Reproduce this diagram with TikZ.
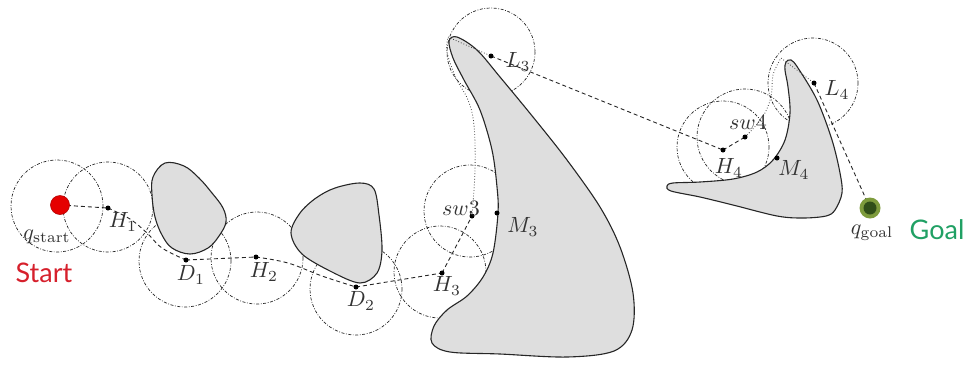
\documentclass[tikz,border=0pt]{standalone}
\usepackage{graphicx}
\usepackage{fontspec}
\newfontfamily\gill{Lato}
\newcommand\mylbl[1]{\scalebox{2.2}{#1}}
\begin{document}
\begin{tikzpicture}[x=1pt,y=-1pt,
  zone/.style={draw=black!85, line width=0.7pt, dash pattern=on 3pt off 1.6pt on 0.8pt off 1.6pt},
  obst/.style={draw=black!85, line width=1.1pt, fill=black!13},
  route/.style={draw=black!85, line width=0.9pt, dash pattern=on 4pt off 3pt},
  fine/.style={draw=black!75, line width=0.8pt, dash pattern=on 0.8pt off 2pt},
  pt/.style={circle, fill=black, inner sep=0pt, minimum size=5pt},
  lab/.style={text=black!80, inner sep=0pt}]
\useasboundingbox (0,0) rectangle (969,368);
% point coordinates
\coordinate (qs) at (60,205);
\coordinate (H1) at (108,208);
\coordinate (D1) at (186,260);
\coordinate (H2) at (256,257);
\coordinate (D2) at (356,287);
\coordinate (H3) at (442,273);
\coordinate (sw3) at (472,216);
\coordinate (M3) at (497,213);
\coordinate (L3) at (491,56);
\coordinate (H4) at (723,150);
\coordinate (sw4) at (745,137);
\coordinate (M4) at (777,158);
\coordinate (L4) at (814,83);
\coordinate (qg) at (870,208);
% zones
\draw[zone] (57,206) circle (46);
\draw[zone] (108,207) circle (45);
\draw[zone] (185,261) circle (46);
\draw[zone] (257,258) circle (46);
\draw[zone] (356,289) circle (46);
\draw[zone] (440,272) circle (46);
\draw[zone] (470,211) circle (46);
\draw[zone] (491,52) circle (44);
\draw[zone] (723,147) circle (46);
\draw[zone] (745,137) circle (48);
\draw[zone] (813,83) circle (45);
% obstacles
\path[obst] plot[smooth cycle, tension=0.6] coordinates {(165,163) (153,177) (152,195) (155,217) (162,235) (172,248) (190,254) (208,248) (219,236) (226,222) (223,208) (212,193) (199,178) (184,166)};
\path[obst] plot[smooth cycle, tension=0.55] coordinates {(335,188) (360,183) (374,189) (379,215) (382,250) (377,273) (360,283) (332,272) (302,254) (291,233) (300,213) (316,198)};
\path[obst] plot[smooth cycle, tension=0.55] coordinates {(449,41) (457,37) (477,50) (500,77) (533,117) (567,160) (600,207) (620,247) (633,293) (632,330) (614,351) (567,357) (500,354) (450,352) (432,343) (434,326) (447,310) (467,296) (483,277) (493,253) (498,213) (497,187) (492,150) (480,110) (464,80) (453,58)};
\path[obst] plot[smooth cycle, tension=0.55] coordinates {(786,62) (791,60) (798,68) (817,100) (832,140) (840,173) (842,193) (835,210) (826,216) (803,218) (777,216) (733,205) (700,197) (671,191) (667,186) (673,183) (700,182) (733,179) (757,172) (773,160) (785,140) (790,113) (788,87) (785,70)};
% route
\draw[route] (qs) -- (H1);
\draw[route] plot[smooth, tension=0.6] coordinates {(H1) (130,219) (147,233) (162,248) (D1)};
\draw[route] (D1) -- (H2);
\draw[route] plot[smooth, tension=0.6] coordinates {(H2) (288,263) (322,276) (D2)};
\draw[route] (D2) -- (H3);
\draw[route] (H3) -- (sw3);
\draw[fine] plot[smooth, tension=0.6] coordinates {(sw3) (475,170) (474,125) (468,100) (456,78) (447,52) (448,37)} -- (L3);
\draw[route] (L3) -- (H4);
\draw[route] (H4) -- (sw4);
\draw[fine] plot[smooth, tension=0.6] coordinates {(sw4) (762,118) (771,97) (773,75) (781,58)} -- (L4);
\draw[route] (L4) -- (qg);
% points
\foreach \p in {H1,D1,H2,D2,H3,sw3,M3,L3,H4,sw4,M4,L4} \node[pt] (d\p) at (\p) {};
\node[circle, fill=red!90!black, draw=red!70!black, line width=0.6pt, minimum size=19pt, inner sep=0pt] (start) at (qs) {};
\node[circle, fill={rgb,255:red,125;green,155;blue,60}, minimum size=21pt, inner sep=0pt] (goalhalo) at (qg) {};
\node[circle, fill={rgb,255:red,48;green,78;blue,24}, minimum size=13pt, inner sep=0pt] (goal) at (qg) {};
% labels
\node[lab] (lqs) at (47,237) {\mylbl{$q_{\mathrm{start}}$}};
\node[lab] (lH1) at (123,222) {\mylbl{$H_1$}};
\node[lab] (lD1) at (191,275) {\mylbl{$D_1$}};
\node[lab] (lH2) at (264,272) {\mylbl{$H_2$}};
\node[lab] (lD2) at (361,301) {\mylbl{$D_2$}};
\node[lab] (lH3) at (447,286) {\mylbl{$H_3$}};
\node[lab] (lsw3) at (461,208) {\mylbl{$sw3$}};
\node[lab] (lM3) at (523,227) {\mylbl{$M_3$}};
\node[lab] (lL3) at (518,62) {\mylbl{$L_3$}};
\node[lab] (lsw4) at (748,122) {\mylbl{$sw4$}};
\node[lab] (lH4) at (729,168) {\mylbl{$H_4$}};
\node[lab] (lM4) at (794,170) {\mylbl{$M_4$}};
\node[lab] (lL4) at (837,90) {\mylbl{$L_4$}};
\node[lab] (lqg) at (872,233) {\mylbl{$q_{\mathrm{goal}}$}};
\node[font=\gill\fontsize{27}{30}\selectfont, text={rgb,255:red,214;green,32;blue,44}, inner sep=0pt] (tstart) at (44,273) {Start};
\node[font=\gill\fontsize{27}{30}\selectfont, text={rgb,255:red,32;green,160;blue,100}, inner sep=0pt] (tgoal) at (937,230) {Goal};
\end{tikzpicture}
\end{document}
